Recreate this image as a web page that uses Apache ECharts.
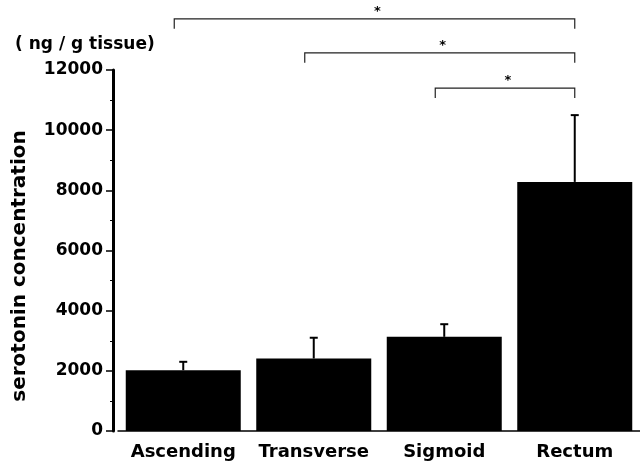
<!DOCTYPE html>
<html>
<head>
<meta charset="utf-8">
<script src="https://cdn.jsdelivr.net/npm/echarts@6/dist/echarts.min.js"></script>
<style>html,body{margin:0;padding:0;background:#fff;}#c{width:640px;height:461px;}</style>
</head>
<body>
<div id="c"></div>
<script>
var categories = ['Ascending', 'Transverse', 'Sigmoid', 'Rectum'];
var means = [2020, 2410, 3130, 8280];
var errors = [280, 690, 420, 2220];
// significance brackets: [fromIndex, toIndex, level]
var brackets = [[0, 3, 13700], [1, 3, 12570], [2, 3, 11400]];
var bracketLabels = ['*', '*', '*'];
var yTicks = [0, 2000, 4000, 6000, 8000, 10000, 12000];

var FONT = '"DejaVu Sans", Arial, sans-serif';
var chart = echarts.init(document.getElementById('c'), null, {renderer: 'canvas'});

var errData = categories.map(function (c, i) { return [i, means[i], means[i] + errors[i]]; });

var option = {
  backgroundColor: '#fff',
  animation: false,
  grid: {left: 118, top: 70, width: 528, bottom: 30, containLabel: false},
  xAxis: {
    type: 'category',
    data: categories,
    axisLine: {lineStyle: {color: '#000', width: 1.5}},
    axisTick: {alignWithLabel: true, length: 4, lineStyle: {color: '#000', width: 1}},
    axisLabel: {interval: 0, color: '#000', fontFamily: FONT, fontWeight: 'bold', fontSize: 18, margin: 12}
  },
  yAxis: {
    type: 'value',
    min: yTicks[0],
    max: yTicks[yTicks.length - 1],
    interval: 2000,
    offset: 5,
    axisLine: {show: true, lineStyle: {color: '#000', width: 3}},
    axisTick: {show: true, length: 7, lineStyle: {color: '#000', width: 1.5}},
    minorTick: {show: true, splitNumber: 2, length: 3, lineStyle: {color: '#000', width: 1}},
    splitLine: {show: false},
    axisLabel: {color: '#000', fontFamily: FONT, fontWeight: 'bold', fontSize: 17, margin: 10,
      formatter: function (v) { return String(v); }}
  },
  graphic: [
    {type: 'text', left: 15, top: 36, style: {text: '( ng / g tissue)', fill: '#000', font: 'bold 17px ' + FONT}},
    {type: 'text', x: 20, y: 266, rotation: Math.PI / 2,
     style: {text: 'serotonin concentration', fill: '#000', font: 'bold 20px ' + FONT, textAlign: 'center', textVerticalAlign: 'middle'}}
  ],
  series: [
    {
      type: 'bar',
      data: means,
      barWidth: 115,
      itemStyle: {color: '#000'},
      z: 2
    },
    {
      type: 'custom',
      data: errData,
      z: 3,
      clip: false,
      renderItem: function (params, api) {
        var base = api.coord([api.value(0), api.value(1)]);
        var top = api.coord([api.value(0), api.value(2)]);
        return {
          type: 'group',
          children: [
            {type: 'line', shape: {x1: base[0], y1: base[1], x2: top[0], y2: top[1]}, style: {stroke: '#000', lineWidth: 2}},
            {type: 'line', shape: {x1: top[0] - 4, y1: top[1], x2: top[0] + 4, y2: top[1]}, style: {stroke: '#000', lineWidth: 2}}
          ]
        };
      }
    },
    {
      type: 'custom',
      data: brackets,
      z: 3,
      clip: false,
      renderItem: function (params, api) {
        var a = api.coord([api.value(0), api.value(2)]);
        var b = api.coord([api.value(1), api.value(2)]);
        var x1 = a[0] - 9, x2 = b[0], y = a[1];
        var lbl = bracketLabels[params.dataIndex];
        return {
          type: 'group',
          children: [
            {type: 'polyline', shape: {points: [[x1, y + 10], [x1, y], [x2, y], [x2, y + 10]]},
             style: {stroke: '#222', lineWidth: 1.2, fill: null}},
            {type: 'text', style: {text: lbl, x: (x1 + x2) / 2 + 3, y: y - 1, textAlign: 'center', textVerticalAlign: 'bottom',
             fill: '#000', font: 'bold 13px ' + FONT}}
          ]
        };
      }
    }
  ]
};
chart.setOption(option);
</script>
</body>
</html>
